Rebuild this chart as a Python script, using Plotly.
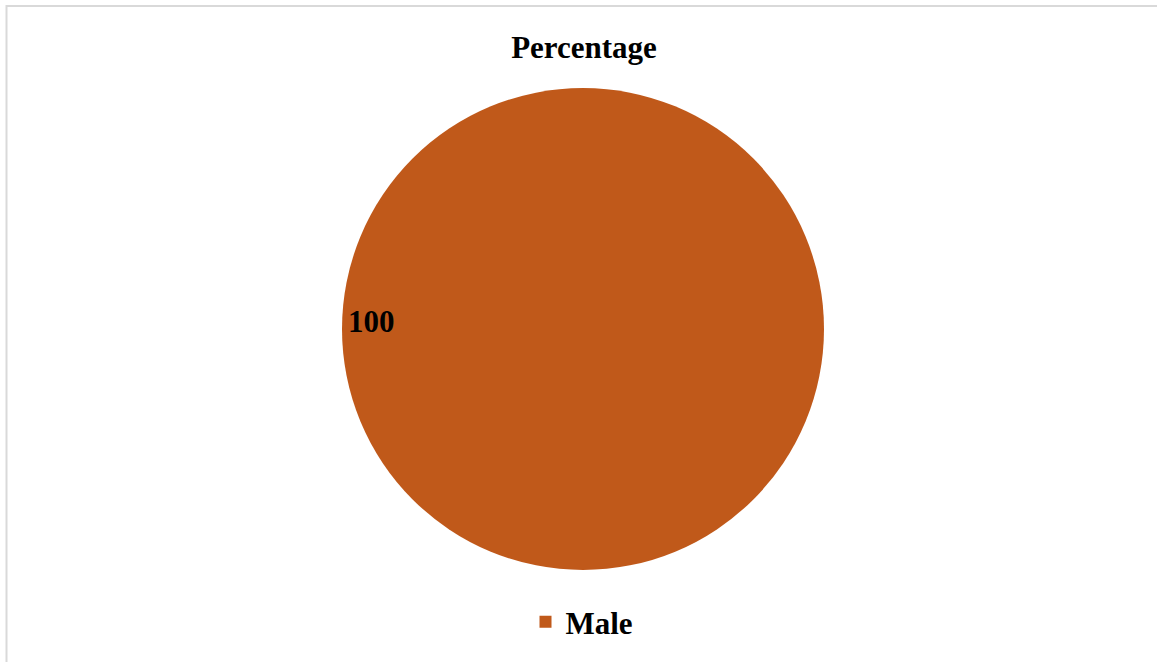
import plotly.graph_objects as go

W, H = 1157, 662

labels = ["Male"]
values = [100]
colors = ["#C0591A"]
chart_title = "Percentage"

SERIF = "Liberation Serif, Times New Roman, serif"

# pie geometry (pixels): centre and radius
cx, cy, r = 583, 329, 241

fig = go.Figure()
fig.add_trace(go.Pie(
    labels=labels,
    values=values,
    marker=dict(colors=colors, line=dict(width=0)),
    textinfo="none",
    sort=False,
    hoverinfo="label+value",
    domain=dict(
        x=[(cx - 400) / W, (cx + 400) / W],
        y=[(H - cy - r) / H, (H - cy + r) / H],
    ),
    showlegend=True,
))

# data label (value) shown inside the slice, at its left side
fig.add_annotation(
    text=f"<b>{values[0]}</b>",
    x=346 / W, y=(H - 322) / H, xref="paper", yref="paper",
    showarrow=False,
    font=dict(family=SERIF, size=31, color="black"),
)

# outer chart border
fig.add_shape(
    type="rect", xref="paper", yref="paper",
    x0=6.5 / W, x1=1.02, y0=-0.02, y1=1 - 6 / H,
    line=dict(color="#d9d9d9", width=2), fillcolor="rgba(0,0,0,0)",
    layer="below",
)

fig.update_layout(
    width=W, height=H,
    margin=dict(l=0, r=0, t=0, b=0),
    paper_bgcolor="white",
    plot_bgcolor="white",
    title=dict(
        text=chart_title,
        x=584 / W, xanchor="center",
        y=1 - 47 / H, yanchor="middle", yref="container",
        font=dict(family=SERIF, size=31, color="black", weight="bold"),
    ),
    legend=dict(
        orientation="h",
        x=582 / W, xanchor="center",
        y=(H - 622) / H, yanchor="middle",
        font=dict(family=SERIF, size=31, color="black", weight="bold"),
        bgcolor="rgba(0,0,0,0)",
    ),
)

fig.write_html("out.html")
